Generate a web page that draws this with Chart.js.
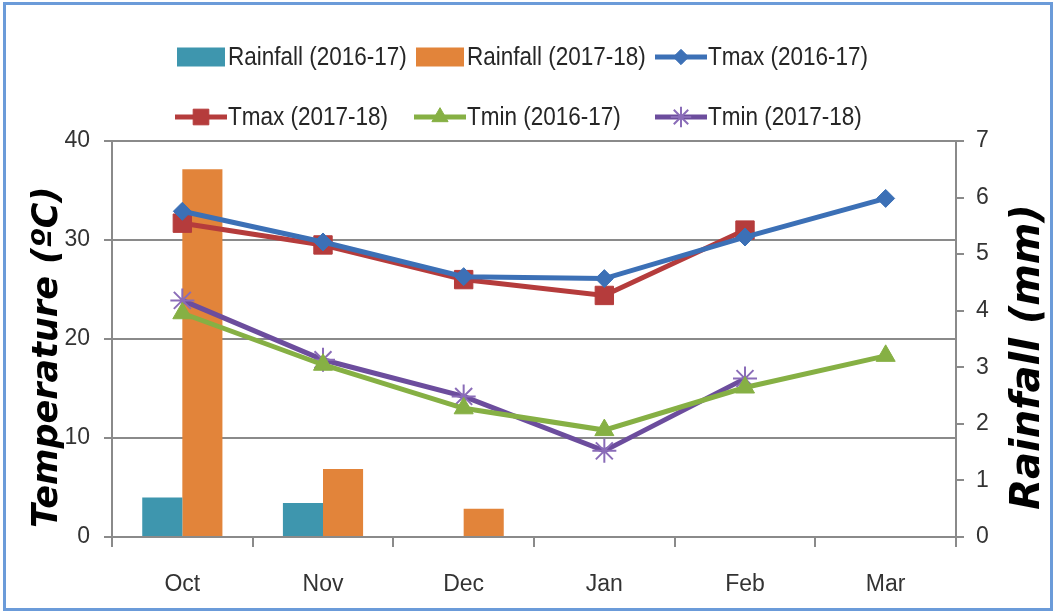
<!DOCTYPE html>
<html>
<head>
<meta charset="utf-8">
<title>Rainfall and temperature</title>
<script src="https://cdn.jsdelivr.net/npm/chart.js@4.4.1/dist/chart.umd.min.js"></script>
<style>
  html, body { margin: 0; padding: 0; background: #fff; overflow: hidden; }
  #wrap { position: relative; width: 1055px; height: 613px; }
  #chart { position: absolute; left: 0; top: 0; }
  #frame { position: absolute; left: 3px; top: 2px; width: 1050px; height: 609px; box-sizing: border-box; border: 3px solid #6b9bd9; pointer-events: none; }
</style>
</head>
<body>
<div id="wrap">
  <canvas id="chart" width="1055" height="613"></canvas>
  <div id="frame"></div>
</div>
<script>
// Data
const months = ['Oct', 'Nov', 'Dec', 'Jan', 'Feb', 'Mar'];
const rain1617 = [0.7, 0.6, null, null, null, null];
const rain1718 = [6.5, 1.2, 0.5, null, null, null];
const tmax1617 = [32.9, 29.8, 26.3, 26.1, 30.3, 34.2];
const tmax1718 = [31.7, 29.5, 26.0, 24.4, 31.0, null];
const tmin1617 = [22.6, 17.4, 13.0, 10.8, 15.1, 18.3];
const tmin1718 = [23.9, 17.9, 14.2, 8.7, 16.0, null];
const tempTicks = [0, 10, 20, 30, 40];
const rainTicks = [0, 1, 2, 3, 4, 5, 6, 7];
const rainTitle = 'Rainfall (mm)';

const labelFont = "'Liberation Sans', Arial, sans-serif";
const titleFont = "'DejaVu Sans', Verdana, sans-serif";
const axisGray = '#8a8a8a';

// Excel-like legend (3 columns x 2 rows) and the right axis title, which reads bottom-to-top
const gridLegend = {
    id: 'gridLegend',
    afterDraw(chart) {
        const ctx = chart.ctx;
        const cols = [175, 414, 655];
        const rows = [57, 117];
        ctx.save();
        ctx.font = `25px ${labelFont}`;
        ctx.textBaseline = 'middle';
        chart.data.datasets.forEach((ds, i) => {
            const x = cols[i % 3];
            const y = rows[Math.floor(i / 3)];
            if (ds.type === 'line') {
                ctx.strokeStyle = ds.borderColor;
                ctx.lineWidth = 5;
                ctx.beginPath();
                ctx.moveTo(x, y);
                ctx.lineTo(x + 52, y);
                ctx.stroke();
                ctx.fillStyle = ds.pointBackgroundColor;
                ctx.strokeStyle = ds.pointBorderColor;
                ctx.lineWidth = ds.pointBorderWidth;
                Chart.helpers.drawPoint(ctx, {
                    pointStyle: ds.pointStyle, rotation: 0,
                    radius: ds.pointRadius * 0.85, borderWidth: ds.pointBorderWidth
                }, x + 26, y);
            } else {
                ctx.fillStyle = ds.backgroundColor;
                ctx.fillRect(x + 2, y - 9.5, 48, 19);
            }
            // squeeze the text a little, the original font is a narrow one
            ctx.save();
            ctx.translate(x + 53, y + 1);
            ctx.scale(0.9, 1);
            ctx.fillStyle = '#262626';
            ctx.fillText(ds.label, 0, 0);
            ctx.restore();
        });

        const y1 = chart.scales.y1;
        const area = chart.chartArea;
        ctx.translate(y1.right - 26, (area.top + area.bottom) / 2 + 18);
        ctx.rotate(-Math.PI / 2);
        ctx.font = `italic bold 40px ${titleFont}`;
        ctx.textAlign = 'center';
        ctx.fillStyle = '#000';
        ctx.fillText(rainTitle, 0, 0);
        ctx.restore();
    }
};

function lineSet(label, data, color, style, radius, markerColor, markerBorder) {
    return {
        type: 'line',
        label: label,
        data: data,
        yAxisID: 'y',
        order: 1,
        borderColor: color,
        borderWidth: 5,
        tension: 0,
        pointStyle: style,
        pointRadius: radius,
        pointHoverRadius: radius,
        pointBackgroundColor: markerColor || color,
        pointBorderColor: markerColor || color,
        pointBorderWidth: markerBorder || 1
    };
}

function barSet(label, data, color) {
    return {
        type: 'bar',
        label: label,
        data: data,
        yAxisID: 'y1',
        order: 2,
        backgroundColor: color,
        borderWidth: 0,
        categoryPercentage: 0.57,
        barPercentage: 1.0
    };
}

new Chart(document.getElementById('chart'), {
    type: 'bar',
    data: {
        labels: months,
        datasets: [
            barSet('Rainfall (2016-17)', rain1617, '#3e96ae'),
            barSet('Rainfall (2017-18)', rain1718, '#e2843a'),
            lineSet('Tmax (2016-17)', tmax1617, '#3c70b6', 'rectRot', 9),
            lineSet('Tmax (2017-18)', tmax1718, '#b53c3c', 'rect', 13),
            lineSet('Tmin (2016-17)', tmin1617, '#86b044', 'triangle', 11),
            lineSet('Tmin (2017-18)', tmin1718, '#6c4d9d', 'star', 12, '#8a6cb8', 2)
        ]
    },
    options: {
        responsive: false,
        animation: false,
        devicePixelRatio: 1,
        layout: { padding: { top: 141, left: 0, right: 0, bottom: 0 } },
        plugins: {
            legend: { display: false },
            tooltip: { enabled: false }
        },
        scales: {
            x: {
                offset: true,
                grid: { offset: true, drawOnChartArea: false, color: axisGray, lineWidth: 2, tickLength: 10 },
                border: { display: true, color: axisGray, width: 2 },
                ticks: { color: '#333', padding: 24, font: { family: labelFont, size: 23 } },
                afterFit: (scale) => { scale.height = 76; }
            },
            y: {
                position: 'left',
                min: tempTicks[0],
                max: tempTicks[tempTicks.length - 1],
                ticks: { stepSize: tempTicks[1] - tempTicks[0], color: '#333', padding: 14, font: { family: labelFont, size: 23 } },
                grid: { color: axisGray, lineWidth: 2, tickLength: 8 },
                border: { display: true, color: axisGray, width: 2 },
                title: {
                    display: true,
                    text: 'Temperature (ºC)   ',
                    color: '#000',
                    padding: { top: 27, bottom: 0 },
                    font: { family: titleFont, size: 35, weight: 'bold', style: 'italic' }
                },
                afterFit: (scale) => { scale.width = 112; }
            },
            y1: {
                position: 'right',
                min: rainTicks[0],
                max: rainTicks[rainTicks.length - 1],
                ticks: { stepSize: rainTicks[1] - rainTicks[0], color: '#333', padding: 12, font: { family: labelFont, size: 23 } },
                grid: { drawOnChartArea: false, color: axisGray, lineWidth: 2, tickLength: 8 },
                border: { display: true, color: axisGray, width: 2 },
                afterFit: (scale) => { scale.width = 99; }
            }
        }
    },
    plugins: [gridLegend]
});
</script>
</body>
</html>
